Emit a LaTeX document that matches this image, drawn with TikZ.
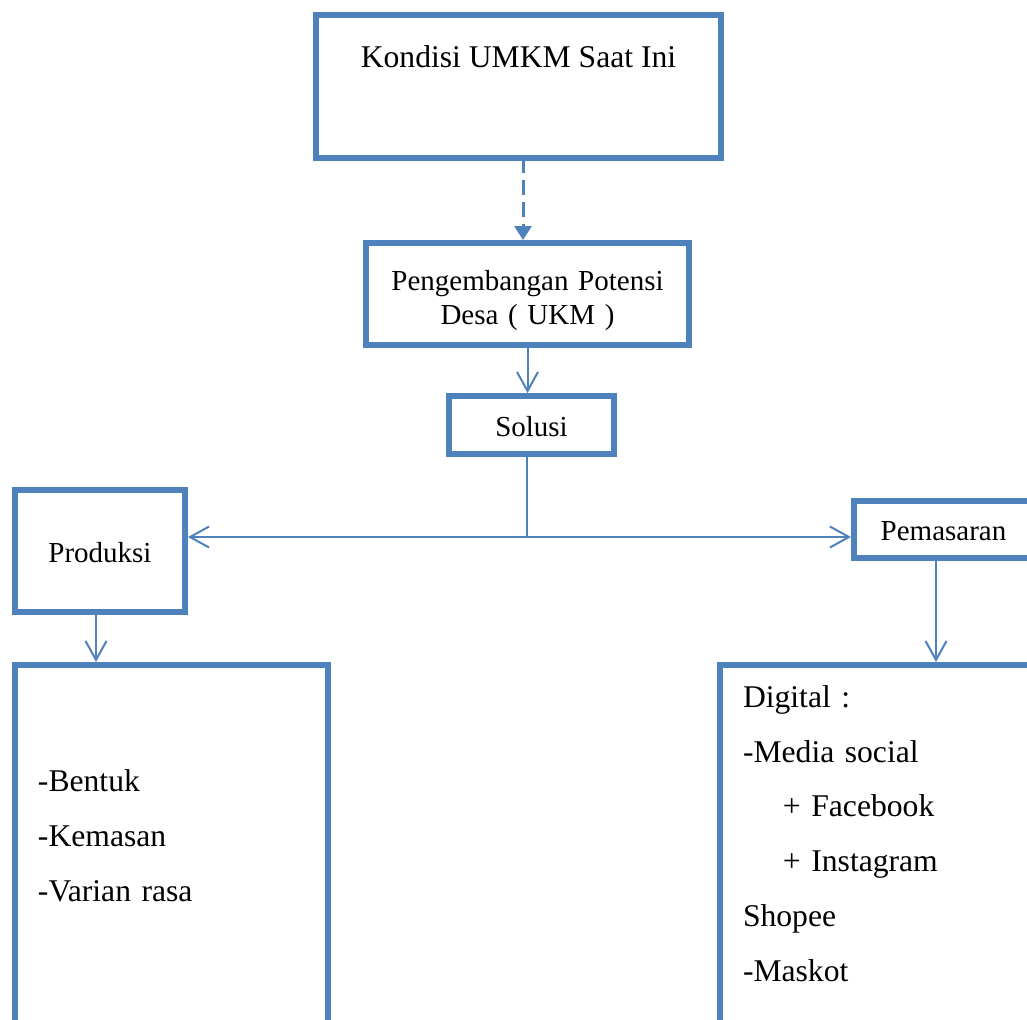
\documentclass[tikz,border=0pt]{standalone}
\usepackage{fontspec}
\setmainfont{Liberation Serif}
\usetikzlibrary{positioning,arrows.meta}
\definecolor{umkmblue}{HTML}{4F81BD}

\begin{document}
\begin{tikzpicture}[x=0.02cm,y=-0.02cm,
        umkmbox/.style={draw=umkmblue,line width=0.12cm,inner sep=0pt,outer sep=0pt,font=\fontsize{16.5}{19.9}\selectfont},
        smallbox/.style={umkmbox,text height=0.5cm,text depth=0.06cm},
        listbox/.style={umkmbox,anchor=north west,align=left,inner xsep=0.46cm,inner ysep=0pt,font=\fontsize{18}{31.3}\selectfont},
        conn/.style={draw=umkmblue,line width=0.04cm,shorten >=0.06cm,-{Straight Barb[length=0.38cm,width=0.42cm]}},
        dashconn/.style={draw=umkmblue,line width=0.06cm,dash pattern=on 0.3cm off 0.14cm,shorten >=0.06cm,-{Triangle[length=0.28cm,width=0.34cm]}}]
        \clip (0,0) rectangle (1027,1019);
        % boxes
        \node[umkmbox,anchor=north,minimum width=8.1cm,text height=1.06cm,text depth=1.8cm,font=\fontsize{18}{21}\selectfont] (kondisi) at (518.5,15) {Kondisi UMKM Saat Ini};
        \node[umkmbox,text width=6.46cm,align=center,text height=0.94cm,text depth=1.1cm] (potensi) at (527.5,294) {Pengembangan Potensi\\Desa ( UKM )};
        \node[smallbox,minimum width=3.3cm,minimum height=1.16cm] (solusi) at (531.5,425) {Solusi};
        \node[smallbox,minimum width=3.4cm,minimum height=2.44cm] (produksi) at (100,551) {Produksi};
        \node[smallbox,minimum width=3.58cm,minimum height=1.14cm] (pemasaran) at (943.5,529.5) {Pemasaran};
        \node[listbox,text width=5.34cm,text height=2.54cm,text depth=5.36cm] (bentuk) at (15,665) {-Bentuk\\-Kemasan\\-Varian rasa};
        \node[listbox,text width=5.88cm,text height=0.84cm,text depth=7.06cm] (digital) at (720,665) {Digital :\\-Media social\\\hspace*{0.8cm}+ Facebook\\\hspace*{0.8cm}+ Instagram\\Shopee\\-Maskot};
        % connectors
        \draw[dashconn] ([xshift=-0.09cm]potensi.north |- kondisi.south) -- ([xshift=-0.09cm]potensi.north);
        \draw[conn] (potensi.south) -- (potensi.south |- solusi.north);
        \coordinate (fork) at (527,537);
        \draw[umkmblue,line width=0.04cm] (solusi.south -| fork) -- (fork);
        \draw[conn] (fork) -- (fork -| produksi.east);
        \draw[conn] (fork) -- (fork -| pemasaran.west);
        \draw[conn] ([xshift=-0.08cm]produksi.south) -- ([xshift=-0.08cm]produksi.south |- bentuk.north);
        \draw[conn] ([xshift=-0.15cm]pemasaran.south) -- ([xshift=-0.15cm]pemasaran.south |- digital.north);
\end{tikzpicture}
\end{document}
